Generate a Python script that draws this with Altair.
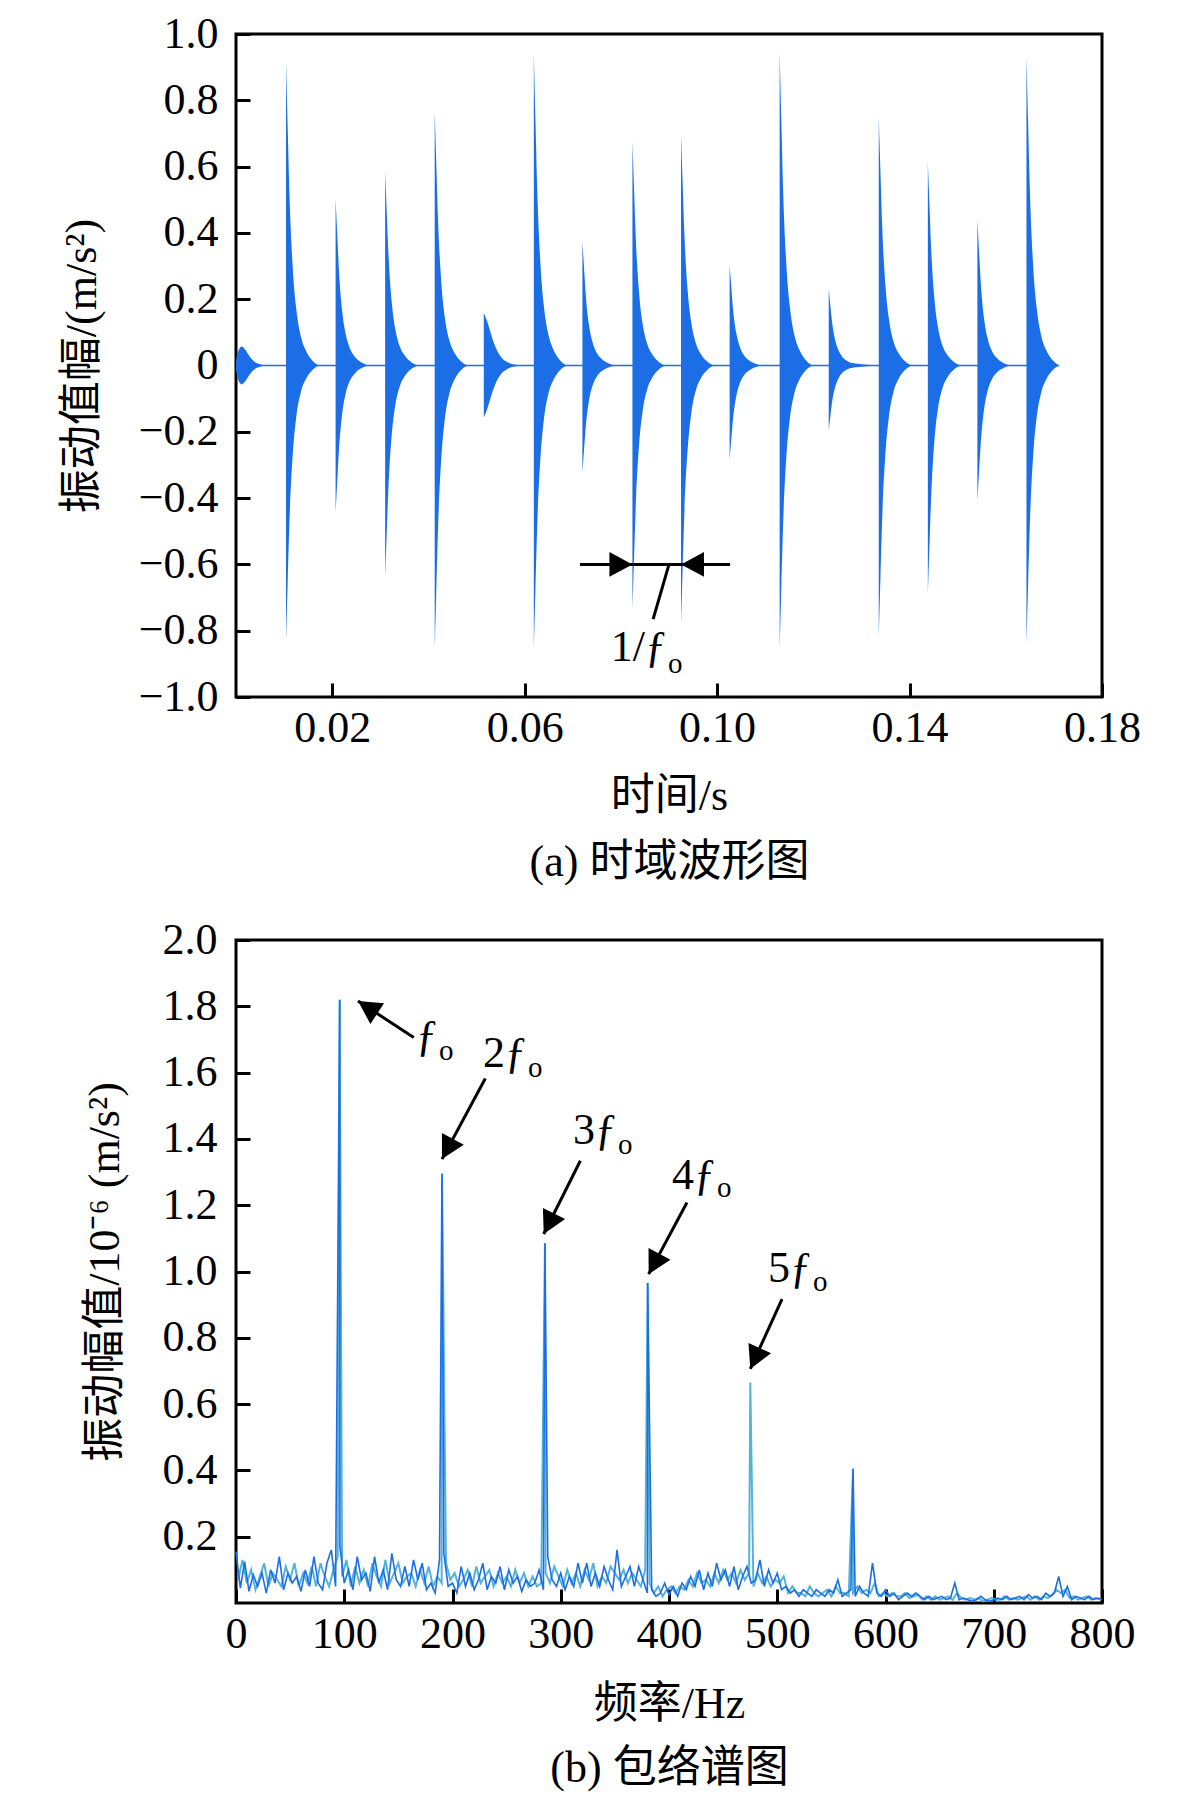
import altair as alt
import pandas as pd

FONT = "'Liberation Serif', 'Times New Roman', 'Noto Sans CJK SC', serif"
BLUE = "#1b6ee6"
CYAN = "#55b3d8"

# ---------------- (a) time-domain waveform ----------------
burst_times = [0.0104, 0.0207, 0.0310, 0.0413, 0.0619, 0.0720, 0.0824, 0.0925,
               0.1026, 0.1130, 0.1232, 0.1336, 0.1438, 0.1541, 0.1643]
burst_pos = [0.916, 0.503, 0.585, 0.768, 0.942, 0.374, 0.675, 0.697,
             0.303, 0.946, 0.230, 0.748, 0.613, 0.439, 0.932]
burst_neg = [-0.832, -0.445, -0.636, -0.855, -0.855, -0.323, -0.735, -0.778,
             -0.284, -0.855, -0.194, -0.819, -0.688, -0.409, -0.839]
# envelope of one impact (offset in s, relative amplitude)
decay_offsets = [0.0, 0.00035, 0.0007, 0.0014, 0.0021, 0.0031, 0.0041, 0.0055, 0.0068]
decay_rel = [1.0, 0.78, 0.57, 0.32, 0.19, 0.095, 0.05, 0.016, 0.0]

# the weak, slowly decaying impact near 0.05 s
slow_time = 0.0515
slow_pos = 0.159
slow_neg = -0.157
slow_offsets = [0.0, 0.0008, 0.0019, 0.0029, 0.0039, 0.0049, 0.0063, 0.0084]
slow_rel = [1.0, 0.81, 0.48, 0.26, 0.13, 0.065, 0.02, 0.0]

# small bump at the start and the small tail after the impact at 0.123 s
lead_t = [0.0, 0.0004, 0.0008, 0.0012, 0.0018, 0.0025, 0.0032, 0.0040, 0.0050, 0.0060]
lead_env = [0.015, 0.040, 0.053, 0.057, 0.050, 0.035, 0.020, 0.010, 0.004, 0.0]
tail_t = [0.1240, 0.1248, 0.1257, 0.1275, 0.1300, 0.1335]
tail_env = [0.003, 0.010, 0.012, 0.008, 0.004, 0.0]

signal_start = 0.0
signal_end = 0.1711

# annotation 1/fo
span_t = [0.0715, 0.1027]
span_v = -0.6
head_t = [0.0824, 0.0925]
head_ang = [90, 270]
leader_t = [0.0900, 0.0867]
leader_v = [-0.6, -0.765]
lab_a_t = 0.0896
lab_a_main_v = -0.892
lab_a_sub_v = -0.928

# ---------------- (b) envelope spectrum ----------------
noise_step = 4
blue_noise = [          # 0, 4, 8, ... 800 Hz
    0.155, 0.045, 0.125, 0.035, 0.085, 0.05, 0.09, 0.03, 0.10, 0.06,
    0.14, 0.04, 0.09, 0.06, 0.08, 0.035, 0.10, 0.05, 0.14, 0.06,
    0.04, 0.12, 0.16, 0.05, 0.17, 0.06, 0.10, 0.04, 0.14, 0.07,
    0.09, 0.035, 0.14, 0.06, 0.10, 0.04, 0.15, 0.07, 0.05, 0.11,
    0.05, 0.13, 0.07, 0.12, 0.04, 0.06, 0.03, 0.13, 0.15, 0.05,
    0.06, 0.03, 0.11, 0.05, 0.09, 0.04, 0.07, 0.12, 0.04, 0.08,
    0.06, 0.11, 0.04, 0.10, 0.06, 0.08, 0.035, 0.07, 0.05, 0.06,
    0.10, 0.04, 0.14, 0.07, 0.05, 0.09, 0.04, 0.08, 0.05, 0.12,
    0.06, 0.12, 0.05, 0.09, 0.05, 0.11, 0.07, 0.04, 0.16, 0.05,
    0.08, 0.11, 0.05, 0.11, 0.07, 0.03, 0.04, 0.02, 0.03, 0.06,
    0.025, 0.05, 0.02, 0.06, 0.04, 0.08, 0.05, 0.10, 0.04, 0.09,
    0.05, 0.12, 0.07, 0.10, 0.05, 0.11, 0.04, 0.08, 0.11, 0.06,
    0.07, 0.13, 0.05, 0.10, 0.06, 0.09, 0.04, 0.05, 0.03, 0.04,
    0.02, 0.04, 0.03, 0.02, 0.04, 0.03, 0.02, 0.04, 0.03, 0.07,
    0.02, 0.03, 0.04, 0.02, 0.05, 0.03, 0.02, 0.12, 0.03, 0.02,
    0.04, 0.02, 0.03, 0.01, 0.02, 0.03, 0.02, 0.03, 0.02, 0.01,
    0.02, 0.01, 0.015, 0.02, 0.01, 0.015, 0.06, 0.01, 0.015, 0.01,
    0.005, 0.01, 0.02, 0.01, 0.005, 0.01, 0.015, 0.01, 0.02, 0.01,
    0.015, 0.02, 0.01, 0.025, 0.015, 0.02, 0.01, 0.03, 0.02, 0.03,
    0.08, 0.02, 0.05, 0.01, 0.02, 0.015, 0.01, 0.02, 0.01, 0.015,
    0.01,
]
cyan_noise = [          # 2, 6, 10, ... 798 Hz
    0.07, 0.13, 0.06, 0.10, 0.04, 0.08, 0.12, 0.05, 0.09, 0.07,
    0.05, 0.11, 0.07, 0.12, 0.05, 0.09, 0.06, 0.11, 0.05, 0.12,
    0.08, 0.05, 0.10, 0.14, 0.08, 0.13, 0.05, 0.11, 0.06, 0.10,
    0.05, 0.12, 0.08, 0.05, 0.13, 0.06, 0.09, 0.12, 0.06, 0.08,
    0.09, 0.05, 0.10, 0.06, 0.11, 0.05, 0.08, 0.06, 0.12, 0.07,
    0.09, 0.05, 0.07, 0.10, 0.05, 0.11, 0.06, 0.08, 0.10, 0.05,
    0.09, 0.06, 0.08, 0.05, 0.10, 0.06, 0.09, 0.05, 0.08, 0.05,
    0.06, 0.09, 0.06, 0.11, 0.08, 0.05, 0.10, 0.06, 0.09, 0.05,
    0.10, 0.07, 0.12, 0.05, 0.08, 0.06, 0.11, 0.09, 0.07, 0.10,
    0.06, 0.09, 0.07, 0.05, 0.10, 0.06, 0.03, 0.05, 0.02, 0.04,
    0.05, 0.03, 0.05, 0.04, 0.07, 0.05, 0.09, 0.06, 0.07, 0.05,
    0.09, 0.06, 0.10, 0.07, 0.09, 0.06, 0.10, 0.07, 0.09, 0.05,
    0.09, 0.06, 0.08, 0.05, 0.07, 0.06, 0.08, 0.03, 0.05, 0.03,
    0.03, 0.02, 0.05, 0.03, 0.02, 0.03, 0.04, 0.02, 0.05, 0.03,
    0.03, 0.02, 0.03, 0.05, 0.03, 0.04, 0.03, 0.06, 0.02, 0.03,
    0.02, 0.03, 0.02, 0.02, 0.03, 0.015, 0.02, 0.025, 0.01, 0.02,
    0.01, 0.02, 0.01, 0.015, 0.02, 0.01, 0.03, 0.015, 0.01, 0.015,
    0.01, 0.015, 0.005, 0.01, 0.015, 0.01, 0.01, 0.02, 0.01, 0.015,
    0.01, 0.015, 0.02, 0.01, 0.02, 0.01, 0.02, 0.015, 0.025, 0.04,
    0.03, 0.04, 0.015, 0.02, 0.01, 0.015, 0.02, 0.01, 0.015, 0.01,
]
peak_freqs = [95.8, 190.3, 285.4, 380.3, 475.1, 570.0]
peak_amps = [1.82, 1.295, 1.085, 0.965, 0.665, 0.405]
blue_has_peak = [True, True, True, True, False, True]

ann_text = ["ƒ", "2ƒ", "3ƒ", "4ƒ", "5ƒ"]
ann_anchor = [186.6, 268.8, 352.0, 443.4, 532.1]
ann_main_v = [1.668, 1.616, 1.384, 1.249, 0.968]
ann_sub_v = [1.638, 1.586, 1.354, 1.224, 0.941]
arrow_f0 = [164.2, 230.3, 318.1, 416.6, 504.4]
arrow_v0 = [1.706, 1.582, 1.334, 1.208, 0.917]
arrow_f1 = [112.7, 190.3, 284.3, 381.2, 475.1]
arrow_v1 = [1.816, 1.339, 1.113, 0.992, 0.706]
arrow_ang = [303.3, 208.2, 206.5, 208.1, 204.4]

HEAD = "M0,0L-0.54,1L0.54,1Z"
HEAD_SIZE = 2116

# ---------------- build tables ----------------
rows = []
for i, (t0, p, n) in enumerate(zip(burst_times, burst_pos, burst_neg)):
    for o, r in zip(decay_offsets, decay_rel):
        rows.append({"burst": f"b{i}", "t": t0 + o, "upper": p * r, "lower": n * r})
for o, r in zip(slow_offsets, slow_rel):
    rows.append({"burst": "slow", "t": slow_time + o, "upper": slow_pos * r, "lower": slow_neg * r})
for t, e in zip(lead_t, lead_env):
    rows.append({"burst": "lead", "t": t, "upper": e, "lower": -e})
for t, e in zip(tail_t, tail_env):
    rows.append({"burst": "tail", "t": t, "upper": e, "lower": -e})
wave = pd.DataFrame(rows)

base_df = pd.DataFrame({"t": [signal_start], "t1": [signal_end], "v": [0.0]})
span_df = pd.DataFrame({"t": [span_t[0]], "t1": [span_t[1]], "v": [span_v]})
leader_df = pd.DataFrame({"t": [leader_t[0]], "t1": [leader_t[1]],
                          "v": [leader_v[0]], "v1": [leader_v[1]]})
head_df = pd.DataFrame({"t": head_t, "v": [span_v, span_v], "ang": head_ang})
laba_df = pd.DataFrame({"t": [lab_a_t], "v": [lab_a_main_v], "vs": [lab_a_sub_v]})

blue_rows = [{"f": i * noise_step, "a": v} for i, v in enumerate(blue_noise)]
blue_rows += [{"f": f, "a": a} for f, a, k in zip(peak_freqs, peak_amps, blue_has_peak) if k]
blue_df = pd.DataFrame(blue_rows).sort_values("f")
cyan_rows = [{"f": i * noise_step + 2, "a": v} for i, v in enumerate(cyan_noise)]
cyan_rows += [{"f": f, "a": a} for f, a in zip(peak_freqs, peak_amps)]
cyan_df = pd.DataFrame(cyan_rows).sort_values("f")

ann_df = pd.DataFrame({"txt": ann_text, "f": ann_anchor, "a": ann_main_v, "vs": ann_sub_v})
arrow_df = pd.DataFrame({"f": arrow_f0, "a": arrow_v0, "f1": arrow_f1,
                         "a1": arrow_v1, "ang": arrow_ang})

# ---------------- axes / scales ----------------
W, H1, H2 = 866, 663, 663
axis_common = dict(labelFont=FONT, labelFontSize=44, labelColor="black",
                   titleFont=FONT, titleFontSize=44, titleColor="black",
                   titleFontWeight="normal", tickColor="black", tickWidth=3,
                   tickSize=14, domain=False, grid=False, offset=-14,
                   labelFlush=False)

xs_a = alt.Scale(domain=[0, 0.18], nice=False, zero=False)
ys_a = alt.Scale(domain=[-1, 1], nice=False)
xs_b = alt.Scale(domain=[0, 800], nice=False)
ys_b = alt.Scale(domain=[0, 2], nice=False)

x_axis_a = alt.Axis(values=[0.02, 0.06, 0.10, 0.14, 0.18], format=".2f",
                    labelPadding=9, title=["时间/s", "(a) 时域波形图"],
                    titleLineHeight=66, titlePadding=24, **axis_common)
y_axis_a = alt.Axis(values=[-1, -0.8, -0.6, -0.4, -0.2, 0, 0.2, 0.4, 0.6, 0.8, 1.0],
                    labelExpr="datum.value == 0 ? '0' : format(datum.value, '.1f')",
                    labelPadding=18, title="振动值幅/(m/s²)", titleX=-168,
                    titleY=H1 / 2, titleBaseline="middle", titleAngle=270,
                    **axis_common)
x_axis_b = alt.Axis(values=list(range(0, 801, 100)), format="d",
                    labelPadding=9, title=["频率/Hz", "(b) 包络谱图"],
                    titleLineHeight=64, titlePadding=26, **axis_common)
y_axis_b = alt.Axis(values=[0.2, 0.4, 0.6, 0.8, 1.0, 1.2, 1.4, 1.6, 1.8, 2.0],
                    format=".1f", labelPadding=19,
                    title="振动幅值/10⁻⁶ (m/s²)", titleX=-145, titleY=H2 / 2,
                    titleBaseline="middle", titleAngle=270, **axis_common)


def XA(field):
    return alt.X(field, type="quantitative", scale=xs_a, axis=x_axis_a)


def YA(field, **kw):
    return alt.Y(field, type="quantitative", scale=ys_a, axis=y_axis_a, **kw)


def XB(field):
    return alt.X(field, type="quantitative", scale=xs_b, axis=x_axis_b)


def YB(field):
    return alt.Y(field, type="quantitative", scale=ys_b, axis=y_axis_b)


# ---------------- (a) layers ----------------
a_base = alt.Chart(base_df).mark_rule(color=BLUE, strokeWidth=1.5).encode(
    x=XA("t"), x2="t1:Q", y=YA("v"))
a_wave = alt.Chart(wave).mark_area(color=BLUE, interpolate="monotone", opacity=1).encode(
    x=XA("t"), y=YA("upper", stack=False), y2="lower:Q", detail="burst:N")
a_span = alt.Chart(span_df).mark_rule(color="black", strokeWidth=3).encode(
    x=XA("t"), x2="t1:Q", y=YA("v"))
a_leader = alt.Chart(leader_df).mark_rule(color="black", strokeWidth=3).encode(
    x=XA("t"), x2="t1:Q", y=YA("v"), y2="v1:Q")
a_heads = alt.Chart(head_df).mark_point(shape=HEAD, filled=True, size=HEAD_SIZE,
                                        color="black", opacity=1, strokeWidth=0).encode(
    x=XA("t"), y=YA("v"), angle=alt.Angle("ang:Q", scale=None))
a_lab_main = alt.Chart(laba_df).mark_text(text="1/ƒ", font=FONT, fontSize=44, align="right",
                                          baseline="alphabetic", color="black").encode(
    x=XA("t"), y=YA("v"))
a_lab_sub = alt.Chart(laba_df).mark_text(text="o", font=FONT, fontSize=29, align="left",
                                         baseline="alphabetic", color="black", dx=1).encode(
    x=XA("t"), y=YA("vs"))
chart_a = alt.layer(a_base, a_wave, a_span, a_leader, a_heads, a_lab_main, a_lab_sub).properties(
    width=W, height=H1)

# ---------------- (b) layers ----------------
b_cyan = alt.Chart(cyan_df).mark_line(color=CYAN, strokeWidth=2.0).encode(
    x=XB("f"), y=YB("a"), order="f:Q")
b_blue = alt.Chart(blue_df).mark_line(color=BLUE, strokeWidth=1.6).encode(
    x=XB("f"), y=YB("a"), order="f:Q")
b_shafts = alt.Chart(arrow_df).mark_rule(color="black", strokeWidth=3).encode(
    x=XB("f"), x2="f1:Q", y=YB("a"), y2="a1:Q")
b_heads = alt.Chart(arrow_df).mark_point(shape=HEAD, filled=True, size=HEAD_SIZE,
                                         color="black", opacity=1, strokeWidth=0).encode(
    x=alt.X("f1", type="quantitative", scale=xs_b, axis=x_axis_b),
    y=alt.Y("a1", type="quantitative", scale=ys_b, axis=y_axis_b),
    angle=alt.Angle("ang:Q", scale=None))
b_lab_main = alt.Chart(ann_df).mark_text(font=FONT, fontSize=44, align="right",
                                         baseline="alphabetic", color="black").encode(
    x=XB("f"), y=YB("a"), text="txt:N")
b_lab_sub = alt.Chart(ann_df).mark_text(text="o", font=FONT, fontSize=29, align="left",
                                        baseline="alphabetic", color="black", dx=1).encode(
    x=XB("f"), y=YB("vs"))
chart_b = alt.layer(b_cyan, b_blue, b_shafts, b_heads, b_lab_main, b_lab_sub).properties(
    width=W, height=H2)

chart = alt.vconcat(chart_a, chart_b, spacing=30).properties(
    padding={"left": 50, "top": 2, "right": 10, "bottom": 0},
    background="white",
).configure_view(stroke="black", strokeWidth=3)

chart.save("out.html", embed_options={"renderer": "svg", "actions": False})
